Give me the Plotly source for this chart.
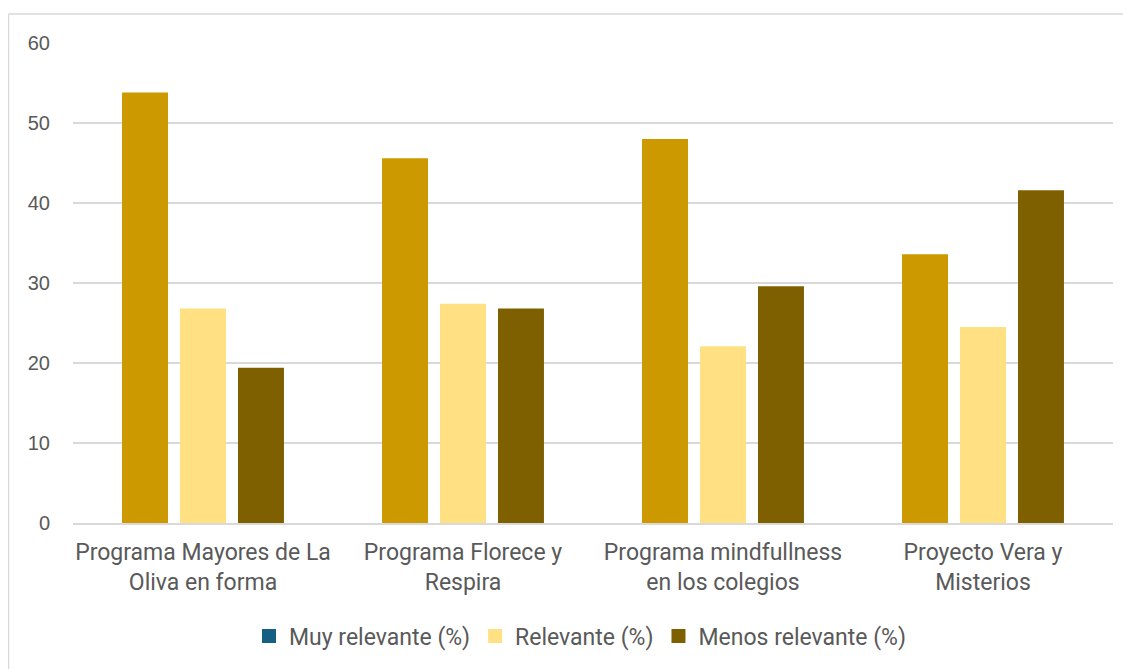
import plotly.graph_objects as go

categories = ["Programa Mayores de La<br>Oliva en forma", "Programa Florece y<br>Respira",
              "Programa mindfullness<br>en los colegios", "Proyecto Vera y<br>Misterios"]
muy_relevante = [53.8, 45.6, 48.0, 33.6]
relevante = [26.8, 27.4, 22.1, 24.5]
menos_relevante = [19.4, 26.8, 29.6, 41.6]

series_names = ["Muy relevante (%)", "Relevante (%)", "Menos relevante (%)"]
bar_colors = ["#CC9900", "#FFE083", "#7F6000"]
legend_colors = ["#156082", "#FFE083", "#7F6000"]
tick_vals = [0, 10, 20, 30, 40, 50, 60]

OFF = 8  # page body margin
W, H = 1131 - OFF, 669 - OFF
L, T = 73 - OFF, 43 - OFF
R = W - (1113 - OFF)
B = H - (523 - OFF)
pw, ph = W - L - R, H - T - B

def px_x(x):
    return (x - OFF - L) / pw

def px_y(y):
    return (523 - y) / ph

FONT = "Roboto, Arial, sans-serif"

fig = go.Figure()
for i, (name, vals) in enumerate(zip(series_names, [muy_relevante, relevante, menos_relevante])):
    fig.add_trace(go.Bar(name=name, x=categories, y=vals, marker_color=bar_colors[i],
                         marker_line_width=0, showlegend=False))
for i, name in enumerate(series_names):
    fig.add_trace(go.Scatter(name=name, x=[None], y=[None], mode="markers",
                             marker=dict(symbol="square", size=14, color=legend_colors[i]),
                             showlegend=True))

fig.update_layout(
    width=W, height=H,
    margin=dict(l=L, r=R, t=T, b=B),
    paper_bgcolor="white", plot_bgcolor="white",
    barmode="group", bargap=0.331, bargroupgap=0.207,
    font=dict(family=FONT, size=20, color="#595959"),
    legend=dict(orientation="h", x=px_x(580), xanchor="center", y=px_y(636), yanchor="middle",
                font=dict(size=23, family=FONT, color="#595959"), itemwidth=30,
                traceorder="normal"),
    shapes=[
        dict(type="line", xref="paper", yref="paper",
             x0=px_x(8.5), x1=px_x(1140), y0=px_y(14), y1=px_y(14),
             line=dict(color="#D9D9D9", width=1.5)),
        dict(type="line", xref="paper", yref="paper",
             x0=px_x(8.5), x1=px_x(8.5), y0=px_y(14), y1=px_y(680),
             line=dict(color="#D9D9D9", width=1.5)),
    ],
)
fig.update_xaxes(showline=True, linecolor="#D9D9D9", linewidth=1.5, ticks="",
                 ticklabelstandoff=8,
                 tickfont=dict(size=23, family=FONT, color="#595959"))
fig.update_yaxes(range=[0, 60], tickvals=tick_vals, showgrid=True, gridcolor="#D9D9D9",
                 gridwidth=1.5, zeroline=False, showline=False, ticks="",
                 ticklabelstandoff=22,
                 tickfont=dict(size=20, family="Arial, sans-serif", color="#595959"))

fig.write_html("out.html")
